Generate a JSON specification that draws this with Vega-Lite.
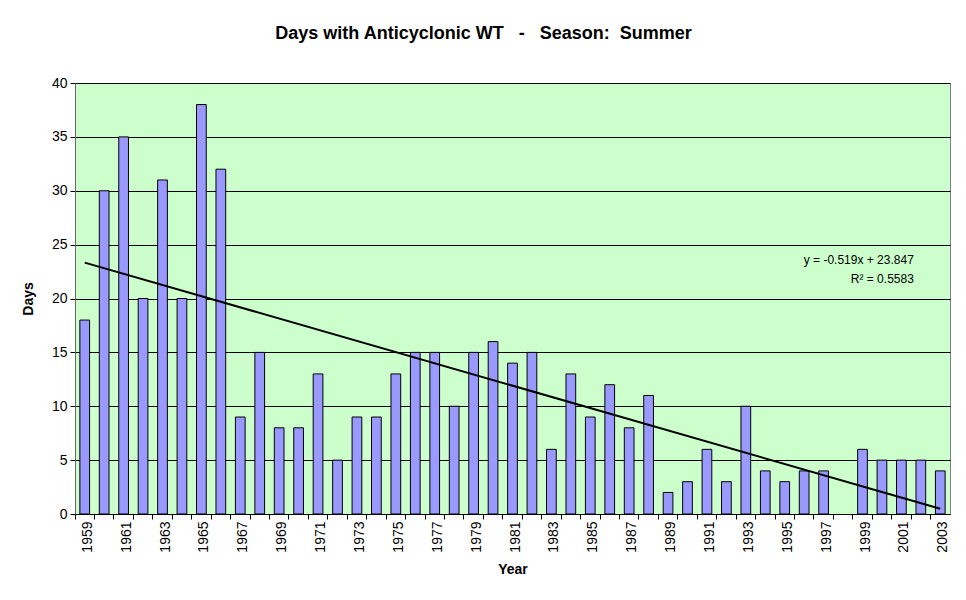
{
  "$schema": "https://vega.github.io/schema/vega-lite/v6.json",
  "width": 875,
  "height": 431,
  "autosize": {"type": "none"},
  "padding": {"left": 75, "top": 83, "right": 16, "bottom": 86},
  "background": "white",
  "title": {
    "text": "Days with Anticyclonic WT \u00a0\u00a0-\u00a0\u00a0 Season:\u00a0\u00a0Summer",
    "font": "Liberation Sans",
    "fontSize": 18,
    "fontWeight": "bold",
    "color": "black",
    "anchor": "middle",
    "frame": "group",
    "dx": -29,
    "offset": 33
  },
  "config": {
    "view": {"fill": "#ccffcc", "stroke": "#808080", "strokeWidth": 1},
    "axis": {
      "labelFont": "Liberation Sans",
      "labelFontSize": 14,
      "labelColor": "black",
      "titleFont": "Liberation Sans",
      "titleFontSize": 14,
      "titleFontWeight": "bold",
      "titleColor": "black",
      "tickColor": "black",
      "tickSize": 5,
      "domainColor": "black"
    }
  },
  "datasets": {
    "bars": [
      {"year": 1959, "days": 18}, {"year": 1960, "days": 30}, {"year": 1961, "days": 35},
      {"year": 1962, "days": 20}, {"year": 1963, "days": 31}, {"year": 1964, "days": 20},
      {"year": 1965, "days": 38}, {"year": 1966, "days": 32}, {"year": 1967, "days": 9},
      {"year": 1968, "days": 15}, {"year": 1969, "days": 8}, {"year": 1970, "days": 8},
      {"year": 1971, "days": 13}, {"year": 1972, "days": 5}, {"year": 1973, "days": 9},
      {"year": 1974, "days": 9}, {"year": 1975, "days": 13}, {"year": 1976, "days": 15},
      {"year": 1977, "days": 15}, {"year": 1978, "days": 10}, {"year": 1979, "days": 15},
      {"year": 1980, "days": 16}, {"year": 1981, "days": 14}, {"year": 1982, "days": 15},
      {"year": 1983, "days": 6}, {"year": 1984, "days": 13}, {"year": 1985, "days": 9},
      {"year": 1986, "days": 12}, {"year": 1987, "days": 8}, {"year": 1988, "days": 11},
      {"year": 1989, "days": 2}, {"year": 1990, "days": 3}, {"year": 1991, "days": 6},
      {"year": 1992, "days": 3}, {"year": 1993, "days": 10}, {"year": 1994, "days": 4},
      {"year": 1995, "days": 3}, {"year": 1996, "days": 4}, {"year": 1997, "days": 4},
      {"year": 1998, "days": 0}, {"year": 1999, "days": 6}, {"year": 2000, "days": 5},
      {"year": 2001, "days": 5}, {"year": 2002, "days": 5}, {"year": 2003, "days": 4}
    ],
    "trend": [
      {"year": 1959, "days": 23.328},
      {"year": 2003, "days": 0.492}
    ],
    "eq": [
      {"year": 2002, "days": 23.55, "label": "y = -0.519x + 23.847"},
      {"year": 2002, "days": 21.8, "label": "R² = 0.5583"}
    ]
  },
  "encoding": {
    "x": {
      "field": "year",
      "type": "ordinal",
      "scale": {"paddingInner": 0.5, "paddingOuter": 0.25},
      "axis": {
        "title": "Year",
        "labelAngle": 270,
        "labelAlign": "right",
        "labelBaseline": "middle",
        "labelPadding": 2,
        "labelOverlap": false,
        "labelExpr": "datum.value % 2 == 1 ? datum.label : ''",
        "bandPosition": -0.5,
        "labelOffset": 3,
        "titlePadding": 10,
        "grid": false
      }
    },
    "y": {
      "field": "days",
      "type": "quantitative",
      "scale": {"domain": [0, 40], "nice": false},
      "axis": {
        "title": "Days",
        "values": [0, 5, 10, 15, 20, 25, 30, 35, 40],
        "grid": true,
        "gridColor": "black",
        "gridOpacity": 1,
        "gridWidth": 1,
        "labelPadding": 3,
        "titlePadding": 16,
        "domainColor": "#666666"
      }
    }
  },
  "layer": [
    {
      "data": {"name": "bars"},
      "mark": {"type": "bar", "fill": "#9999ff", "stroke": "#000000", "strokeWidth": 1},
      "encoding": {
        "strokeOpacity": {"condition": {"test": "datum.days == 0", "value": 0}, "value": 1}
      }
    },
    {
      "data": {"name": "trend"},
      "mark": {"type": "line", "color": "black", "strokeWidth": 2}
    },
    {
      "data": {"name": "eq"},
      "mark": {"type": "text", "align": "right", "baseline": "middle", "dx": -7, "font": "Liberation Sans", "fontSize": 12, "color": "black"},
      "encoding": {"text": {"field": "label"}}
    }
  ]
}
